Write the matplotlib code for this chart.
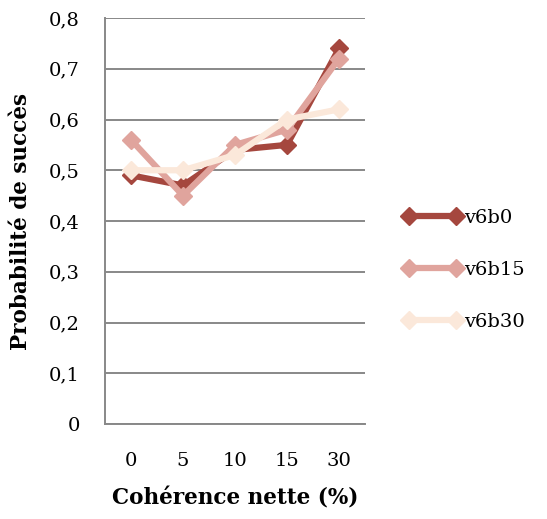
import matplotlib
matplotlib.use("Agg")
import matplotlib.pyplot as plt
from matplotlib.lines import Line2D

categories = ["0", "5", "10", "15", "30"]
v6b0 = [0.49, 0.47, 0.54, 0.55, 0.74]
v6b15 = [0.56, 0.45, 0.55, 0.58, 0.72]
v6b30 = [0.50, 0.50, 0.53, 0.60, 0.62]
series_names = ["v6b0", "v6b15", "v6b30"]
colors = ["#A5473E", "#E0A49D", "#FBE8DA"]
yticks = [0, 0.1, 0.2, 0.3, 0.4, 0.5, 0.6, 0.7, 0.8]
ytick_labels = ["0", "0,1", "0,2", "0,3", "0,4", "0,5", "0,6", "0,7", "0,8"]

plt.rcParams['font.family'] = ['DejaVu Serif']

fig = plt.figure(figsize=(5.47, 5.19), dpi=100)
ax = fig.add_axes([105/547, 95/519, 260/547, 406/519])

x = list(range(len(categories)))
for vals, name, c in zip([v6b0, v6b15, v6b30], series_names, colors):
    ax.plot(x, vals, color=c, lw=4.5, marker='D', markersize=9.5, label=name,
            solid_joinstyle='miter')

ax.set_xlim(-0.5, len(categories) - 0.5)
ax.set_ylim(0, 0.8)
ax.set_yticks(yticks)
ax.set_yticklabels(ytick_labels)
ax.set_xticks(x)
ax.set_xticklabels(categories)
ax.grid(axis='y', color='#888888', lw=1.4)
ax.set_axisbelow(True)
for s in ['top', 'right']:
    ax.spines[s].set_visible(False)
ax.spines['left'].set_color('#888888')
ax.spines['bottom'].set_color('#888888')
ax.spines['left'].set_linewidth(1.4)
ax.spines['bottom'].set_linewidth(1.4)
ax.tick_params(length=0, labelsize=14)
ax.tick_params(axis='x', pad=20)
ax.tick_params(axis='y', pad=18)

ax.set_xlabel("Cohérence nette (%)", fontsize=15.5, fontweight='bold', labelpad=13)
ax.set_ylabel("Probabilité de succès", fontsize=15.5, fontweight='bold', labelpad=12)

handles = [Line2D([0], [0], color=c, lw=4.5, marker='D', markersize=9.5)
           for c in colors]
leg = fig.legend(handles, series_names, loc='center left',
                 bbox_to_anchor=(386/547, 1 - 270/519), frameon=False,
                 fontsize=14, handlelength=3.0, handletextpad=0.1,
                 labelspacing=1.75, numpoints=2)

fig.savefig("out.png", dpi=100)
